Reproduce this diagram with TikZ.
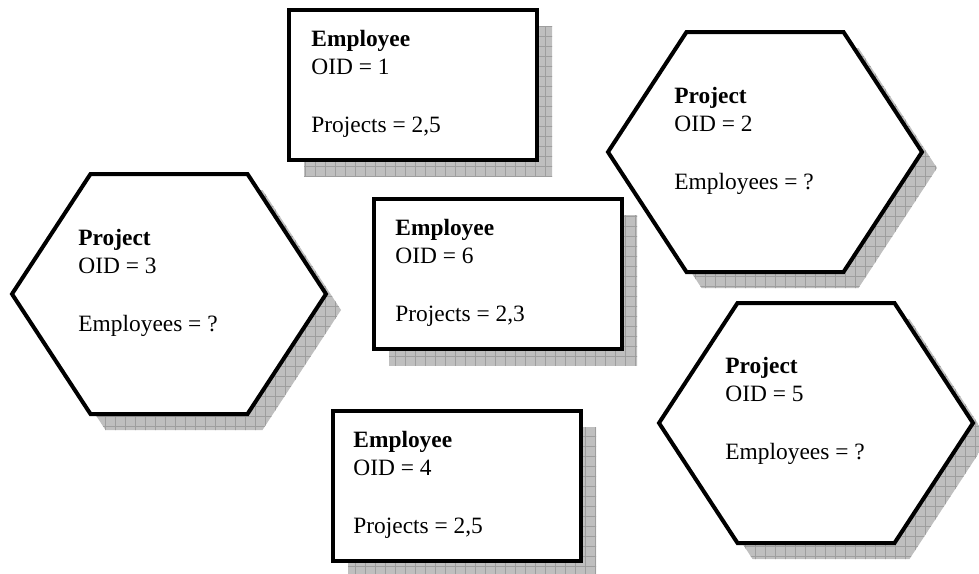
\documentclass[tikz,border=0pt]{standalone}
\usepackage{fontspec}
\setmainfont{Liberation Serif}
\tikzset{
  objline/.style={line width=2pt,fill=white,line join=miter},
  objtext/.style={anchor=north west,inner sep=0pt,align=left,font=\fontsize{11.7}{14}\selectfont},
  shadowgrid/.style={draw=black!38,line width=0.3pt}
}
\begin{document}
\begin{tikzpicture}[x=0.5pt,y=-0.5pt]
		\useasboundingbox (0,0) rectangle (979,573);
		% shapes: rectangle 248x150, hexagon from its left corner
		\def\emprect#1#2{(#1,#2) rectangle ++(248,150)}
		\def\projhex#1#2{(#1,#2) -- ++(78.5,-120) -- ++(157,0) -- ++(78.5,120) -- ++(-78.5,120) -- ++(-157,0) -- cycle}
		\def\dropshadow#1{\begin{scope}[shift={(15,16)}]
			\clip #1;
			\fill[black!25] (-20,-20) rectangle (1000,600);
			\draw[shadowgrid] (-20,600) grid[step=5pt] (1000,-20);
		\end{scope}}
		% employees
		\dropshadow{\emprect{289}{10}}
		\draw[objline] \emprect{289}{10};
		\node[objtext] (emp1) at (311,30) {\textbf{Employee}\\OID = 1\\[15pt]Projects = 2,5};
		\dropshadow{\emprect{374}{199}}
		\draw[objline] \emprect{374}{199};
		\node[objtext] (emp6) at (395,219) {\textbf{Employee}\\OID = 6\\[15pt]Projects = 2,3};
		\dropshadow{\emprect{333}{411}}
		\draw[objline] \emprect{333}{411};
		\node[objtext] (emp4) at (353,431) {\textbf{Employee}\\OID = 4\\[15pt]Projects = 2,5};
		% projects
		\dropshadow{\projhex{12}{294}}
		\draw[objline] \projhex{12}{294};
		\node[objtext] (proj3) at (78,229) {\textbf{Project}\\OID = 3\\[15pt]Employees = ?};
		\dropshadow{\projhex{608}{152}}
		\draw[objline] \projhex{608}{152};
		\node[objtext] (proj2) at (674,87) {\textbf{Project}\\OID = 2\\[15pt]Employees = ?};
		\dropshadow{\projhex{659}{423}}
		\draw[objline] \projhex{659}{423};
		\node[objtext] (proj5) at (725,357) {\textbf{Project}\\OID = 5\\[15pt]Employees = ?};
	\end{tikzpicture}
\end{document}
